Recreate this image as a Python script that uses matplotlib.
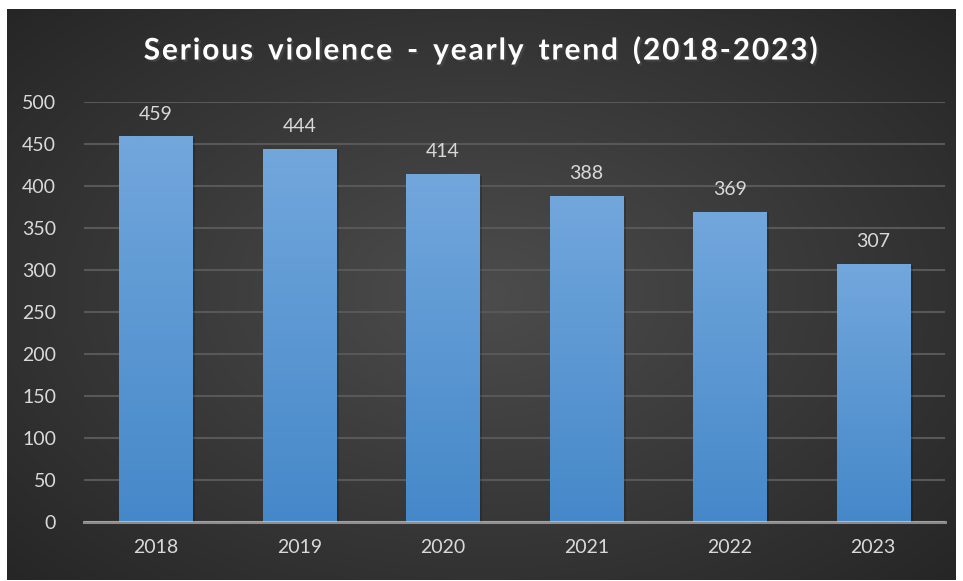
import numpy as np
import matplotlib.pyplot as plt
import matplotlib.patheffects as pe

years = ["2018", "2019", "2020", "2021", "2022", "2023"]
counts = [459, 444, 414, 388, 369, 307]
y_ticks = [0, 50, 100, 150, 200, 250, 300, 350, 400, 450, 500]

plt.rcParams['font.family'] = ['Lato', 'DejaVu Sans']

fig = plt.figure(figsize=(9.63, 5.81), dpi=100, facecolor="white")

# dark radial background panel
bg = fig.add_axes([7 / 963, 1 - 580 / 581, 948 / 963, 571 / 581])
yy, xx = np.mgrid[-1:1:300j, -1:1:500j]
r = np.sqrt((xx * 0.95) ** 2 + (yy * 0.9) ** 2)
shade = np.clip(1 - r / 1.3, 0, 1)
g = 0.15 + 0.15 * shade
bg.imshow(np.dstack([g, g, g]), aspect="auto", extent=[0, 1, 0, 1],
          interpolation="bicubic")
bg.set_axis_off()

ax = fig.add_axes([84 / 963, 1 - 522 / 581, 861 / 963, 420 / 581])
ax.patch.set_alpha(0)
x = np.arange(len(years))
bars = ax.bar(x, counts, width=0.51, color="#5b9bd5", zorder=3)

top = np.array([0x72, 0xa7, 0xdc]) / 255
bottom = np.array([0x45, 0x88, 0xc9]) / 255
grad = np.linspace(0, 1, 256)[:, None, None]
img = top * (1 - grad) + bottom * grad
for b in bars:
    b.set_path_effects([pe.SimplePatchShadow(offset=(2, -1), alpha=0.18, shadow_rgbFace="black"), pe.Normal()])
    x0, y0 = b.get_x(), b.get_y()
    im = ax.imshow(img, extent=[x0, x0 + b.get_width(), y0, y0 + b.get_height()],
                   aspect="auto", zorder=4)
    im.set_clip_path(b)

for xi, v in zip(x, counts):
    ax.annotate(str(v), (xi, v), xytext=(0, 10), textcoords="offset points",
                ha="center", va="bottom", color="#d9d9d9", fontsize=14)

ax.set_xlim(-0.5, len(years) - 0.5)
ax.set_ylim(0, 500)
ax.set_yticks(y_ticks)
ax.set_xticks(x, years)
ax.grid(axis="y", color="#585858", linewidth=1.5, zorder=0)
ax.tick_params(colors="#d9d9d9", labelsize=14, length=0)
ax.tick_params(axis="y", pad=20)
ax.tick_params(axis="x", pad=12)
for s in ["top", "right", "left"]:
    ax.spines[s].set_visible(False)
ax.spines["bottom"].set_color((1, 1, 1, 0.45))
ax.spines["bottom"].set_linewidth(2.2)
ax.spines["bottom"].set_zorder(5)

title = "Serious violence - yearly trend (2018-2023)"
spaced = "\u200a".join(title).replace("\u200a \u200a", "\u2002")
fig.text(0.5, 1 - 50 / 581, spaced,
         ha="center", va="center", color="white", fontsize=21.5, fontweight="bold",
         path_effects=[pe.withSimplePatchShadow(offset=(1.5, -1.5), alpha=0.6)])

fig.savefig("out.png", dpi=100, facecolor="white")
